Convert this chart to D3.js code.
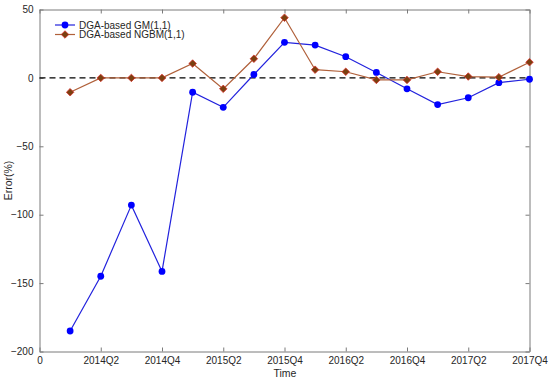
<!DOCTYPE html>
<html>
<head>
<meta charset="utf-8">
<script src="https://cdn.jsdelivr.net/npm/d3@7"></script>
<style>
  body { margin: 0; background: #fff; }
  text { font-family: "Liberation Sans", Arial, sans-serif; }
</style>
</head>
<body>
<div id="chart"></div>
<script>
// quarter index: 1 = 2014Q1 ... 16 = 2017Q4
var quarters = [1, 2, 3, 4, 5, 6, 7, 8, 9, 10, 11, 12, 13, 14, 15, 16];
var gmError = [-185, -145, -93, -141.5, -10.5, -21.5, 2.5, 26, 24, 15.5, 4, -8, -19.5, -14.5, -3.5, -1];
var ngbmError = [-10.5, 0, 0, 0, 10.5, -8, 14, 44, 6, 4.5, -1.5, -1.5, 4.5, 1, 0.5, 11.5];
var xTickValues = [0, 2, 4, 6, 8, 10, 12, 14, 16];
var xTickLabels = ["0", "2014Q2", "2014Q4", "2015Q2", "2015Q4", "2016Q2", "2016Q4", "2017Q2", "2017Q4"];
var yTickValues = [50, 0, -50, -100, -150, -200];
var seriesNames = ["DGA-based GM(1,1)", "DGA-based NGBM(1,1)"];

const w = 550, h = 379;
const padL = 39.5, padR = 529.5, padT = 9.5, padB = 351.5;

const svg = d3.select("#chart").append("svg")
  .attr("width", w).attr("height", h);

const xScale = d3.scaleLinear().domain([0, 16]).range([padL, padR]);
const yScale = d3.scaleLinear().domain([-200, 50]).range([padB, padT]);

const axisColor = "#7a7a7a";
const textColor = "#262626";

// box + axes (ticks inward like matlab)
function styleAxis(g) {
  g.select(".domain").attr("stroke", axisColor);
  g.selectAll(".tick line").attr("stroke", axisColor);
  g.selectAll(".tick text").attr("fill", textColor).style("font-size", "10px");
}

svg.append("g")
  .attr("transform", "translate(0," + padB + ")")
  .call(d3.axisBottom(xScale).tickValues(xTickValues)
    .tickFormat((d, i) => xTickLabels[i]).tickSizeInner(-4).tickSizeOuter(0).tickPadding(5))
  .call(styleAxis);

svg.append("g")
  .attr("transform", "translate(0," + padT + ")")
  .call(d3.axisTop(xScale).tickValues(xTickValues).tickFormat("").tickSizeInner(-4).tickSizeOuter(0))
  .call(styleAxis);

svg.append("g")
  .attr("transform", "translate(" + padL + ",0)")
  .call(d3.axisLeft(yScale).tickValues(yTickValues).tickSizeInner(-4).tickSizeOuter(0).tickPadding(6))
  .call(styleAxis);

svg.append("g")
  .attr("transform", "translate(" + padR + ",0)")
  .call(d3.axisRight(yScale).tickValues(yTickValues).tickFormat("").tickSizeInner(-4).tickSizeOuter(0))
  .call(styleAxis);

// zero reference line
svg.append("line")
  .attr("x1", xScale(0)).attr("x2", xScale(16))
  .attr("y1", yScale(0)).attr("y2", yScale(0))
  .attr("stroke", "#000").attr("stroke-width", 1.1)
  .attr("stroke-dasharray", "6,4");

const gmColor = "#2222dd";
const ngbmLine = "#b0603a";
const ngbmFill = "#7a4010";
const ngbmEdge = "#d8302a";

const gmData = quarters.map((q, i) => ({ x: q, y: gmError[i] }));
const ngbmData = quarters.map((q, i) => ({ x: q, y: ngbmError[i] }));

const line = d3.line().x(d => xScale(d.x)).y(d => yScale(d.y));

svg.append("path").datum(gmData)
  .attr("d", line).attr("fill", "none")
  .attr("stroke", gmColor).attr("stroke-width", 1.2);

svg.selectAll(".gm").data(gmData).enter().append("circle")
  .attr("class", "gm")
  .attr("cx", d => xScale(d.x)).attr("cy", d => yScale(d.y))
  .attr("r", 3.4).attr("fill", "#0000ff");

svg.append("path").datum(ngbmData)
  .attr("d", line).attr("fill", "none")
  .attr("stroke", ngbmLine).attr("stroke-width", 1.2);

const diamond = d3.symbol().type(d3.symbolDiamond2).size(36);

svg.selectAll(".ngbm").data(ngbmData).enter().append("path")
  .attr("class", "ngbm")
  .attr("transform", d => "translate(" + xScale(d.x) + "," + yScale(d.y) + ")")
  .attr("d", diamond)
  .attr("fill", ngbmFill).attr("stroke", ngbmEdge).attr("stroke-width", 0.8);

// legend
const legend = svg.append("g").attr("transform", "translate(55,25)");
legend.append("line").attr("x1", 0).attr("x2", 20).attr("y1", 0).attr("y2", 0)
  .attr("stroke", gmColor).attr("stroke-width", 1.2);
legend.append("circle").attr("cx", 10).attr("cy", 0).attr("r", 3.4).attr("fill", "#0000ff");
legend.append("text").attr("x", 24).attr("y", 3.5).attr("fill", textColor)
  .style("font-size", "10px").text(seriesNames[0]);

legend.append("line").attr("x1", 0).attr("x2", 20).attr("y1", 9.5).attr("y2", 9.5)
  .attr("stroke", ngbmLine).attr("stroke-width", 1.2);
legend.append("path").attr("transform", "translate(10,9.5)").attr("d", diamond)
  .attr("fill", ngbmFill).attr("stroke", ngbmEdge).attr("stroke-width", 0.8);
legend.append("text").attr("x", 24).attr("y", 13).attr("fill", textColor)
  .style("font-size", "10px").text(seriesNames[1]);

// axis labels
svg.append("text")
  .attr("x", 285).attr("y", 377)
  .attr("text-anchor", "middle").attr("fill", textColor)
  .style("font-size", "10.5px").text("Time");

svg.append("text")
  .attr("transform", "translate(12," + ((padT + padB) / 2) + ") rotate(-90)")
  .attr("text-anchor", "middle").attr("fill", textColor)
  .style("font-size", "10.5px").text("Error(%)");
</script>
</body>
</html>
